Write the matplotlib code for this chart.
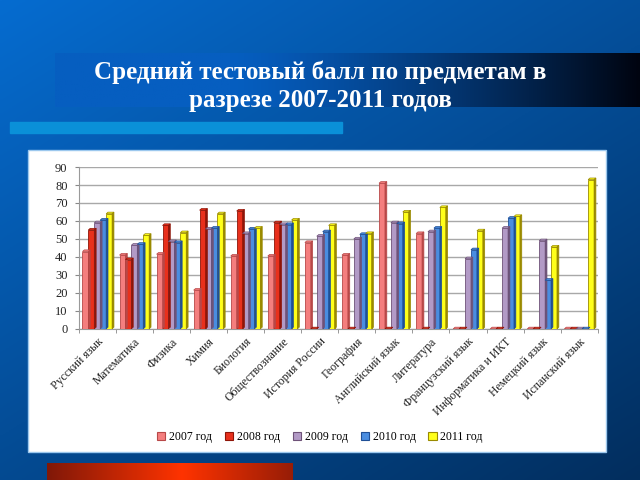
import numpy as np
import matplotlib
matplotlib.use("Agg")
import matplotlib.pyplot as plt
from matplotlib.patches import Rectangle, Polygon

# Data
subjects = ["Русский язык", "Математика", "Физика", "Химия", "Биология",
            "Обществознание", "История России", "География", "Английский язык",
            "Литература", "Французский язык", "Информатика и ИКТ",
            "Немецкий язык", "Испанский язык"]
years = ["2007 год", "2008 год", "2009 год", "2010 год", "2011 год"]

y2007 = [43, 41, 41.5, 21.5, 40.5, 40.5, 48, 41, 81, 53, 0, 0, 0, 0]
y2008 = [55, 38.5, 57.5, 66, 65.5, 59, 0, 0, 0, 0, 0, 0, 0, 0]
y2009 = [59, 46.5, 48.5, 55.5, 53, 58, 51.5, 50, 59, 54, 39, 56, 49, 0]
y2010 = [60.5, 47, 48, 56, 55.5, 58, 54, 52.5, 58.5, 56, 44, 61.5, 27, 0]
y2011 = [64, 52, 53.5, 64, 56, 60.5, 57.5, 53, 65, 67.5, 54.5, 62.5, 45.5, 83]

series = [y2007, y2008, y2009, y2010, y2011]
face = ["#F47E7E", "#E8301C", "#B29AC6", "#4A8DE0", "#FFFF1A"]
side = ["#B84848", "#8E1508", "#6E5278", "#1F4F96", "#9A8A00"]

W, H = 640, 480
fig = plt.figure(figsize=(6.4, 4.8), dpi=100)

# slide background: blue gradient
bg = fig.add_axes([0, 0, 1, 1], zorder=-10)
gx, gy = np.meshgrid(np.linspace(0, 1, 200), np.linspace(0, 1, 200))
t = np.clip(0.55 * gy + 0.45 * gx, 0, 1)
c0 = np.array([0x06, 0x6C, 0xD0]) / 255
c1 = np.array([0x02, 0x2E, 0x5E]) / 255
img = c0[None, None, :] * (1 - t[..., None]) + c1[None, None, :] * t[..., None]
bg.imshow(img, extent=[0, W, H, 0], aspect="auto")

# title band: blue fading to black on the right
bx = np.linspace(0, 1, 300)
tb = np.clip((bx - 0.3) / 0.7, 0, 1) ** 1.3
b0 = np.array([0x06, 0x5E, 0xC0]) / 255
b1 = np.array([0x00, 0x04, 0x10]) / 255
band = b0[None, None, :] * (1 - tb[None, :, None]) + b1[None, None, :] * tb[None, :, None]
bg.imshow(band, extent=[55, 640, 107, 53], aspect="auto")

# light blue strip under title
bg.add_patch(Rectangle((10, 122), 332, 11, color="#0A90D8"))

# red block at the bottom
rx = np.linspace(0, 1, 300)
tr = 1 - np.abs(rx - 0.55) / 0.55
r0 = np.array([0x80, 0x18, 0x08]) / 255
r1 = np.array([0xFF, 0x33, 0x00]) / 255
red = r0[None, None, :] * (1 - tr[None, :, None]) + r1[None, None, :] * tr[None, :, None]
bg.imshow(red, extent=[47, 293, 480, 463], aspect="auto")

# white chart panel
bg.add_patch(Rectangle((28, 150), 578, 302, facecolor="white",
                       edgecolor="#9CC8EE", lw=1.0))
bg.set_xlim(0, W)
bg.set_ylim(H, 0)
bg.axis("off")

fig.text(0.5, 0.82, "Средний тестовый балл по предметам в\nразрезе 2007-2011 годов",
         ha="center", va="center", color="white", fontsize=18,
         fontweight="bold", family="Liberation Serif", linespacing=1.3)

# chart
ax = fig.add_axes([0.123, 0.315, 0.811, 0.337])
x = np.arange(len(subjects))
bw = 0.16
dx, dy = 0.05, 0.9
for i, (vals, fc, sc) in enumerate(zip(series, face, side)):
    pos = x - 0.4 + bw * (i + 0.5)
    ax.bar(pos, vals, width=bw, color=fc, edgecolor=sc, lw=0.6, zorder=3)
    for p, v in zip(pos, vals):
        l, r = p - bw / 2, p + bw / 2
        ax.add_patch(Polygon([(l, v), (l + dx, v + dy), (r + dx, v + dy), (r, v)],
                             closed=True, facecolor=fc, edgecolor=sc, lw=0.5, zorder=4))
        ax.add_patch(Polygon([(r, 0), (r + dx, dy), (r + dx, v + dy), (r, v)],
                             closed=True, facecolor=sc, edgecolor=sc, lw=0.5, zorder=4))

ax.set_xlim(-0.5, len(subjects) - 0.5)
ax.set_ylim(0, 90)
ax.set_yticks(range(0, 91, 10))
ax.set_xticks(x)
ax.set_xticklabels(subjects, rotation=45, ha="right", rotation_mode="anchor",
                   fontsize=8.5, family="Liberation Serif", color="#222222")
ax.set_xticks(np.arange(-0.5, len(subjects), 1), minor=True)
ax.tick_params(axis="x", which="major", length=0, pad=5)
ax.tick_params(axis="x", which="minor", length=3, color="#888888")
ax.tick_params(axis="y", length=3, color="#888888", labelsize=9, pad=5)
for lab in ax.get_yticklabels():
    lab.set_family("Liberation Serif")
    lab.set_color("#222222")
ax.grid(axis="y", color="#A8A8A8", lw=1.0, zorder=0)
ax.set_axisbelow(True)
for s in ["top", "right"]:
    ax.spines[s].set_visible(False)
ax.spines["left"].set_color("#9A9A9A")
ax.spines["bottom"].set_color("#9A9A9A")
ax.set_facecolor("none")

handles = [Rectangle((0, 0), 1, 1, facecolor=fc, edgecolor=sc, lw=0.8)
           for fc, sc in zip(face, side)]
fig.legend(handles, years, loc="center", bbox_to_anchor=(0.5, 0.09), ncol=5,
           frameon=False, prop={"family": "Liberation Serif", "size": 8.5},
           handlelength=0.7, handleheight=0.7, handletextpad=0.3, columnspacing=1.1)

fig.savefig("out.png", dpi=100)
